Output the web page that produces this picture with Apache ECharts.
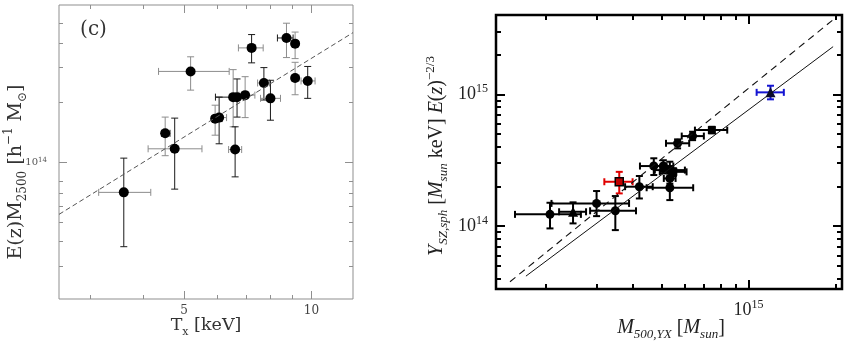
<!DOCTYPE html>
<html>
<head>
<meta charset="utf-8">
<script src="https://cdn.jsdelivr.net/npm/echarts@6/dist/echarts.min.js"></script>
<style>
  html, body { margin: 0; padding: 0; background: #fff; }
  #chart { width: 852px; height: 344px; }
</style>
</head>
<body>
<div id="chart"></div>
<script>
// ---------- Panel (c): E(z) M2500 against X-ray temperature ----------
const tempKeV = [3.60, 4.51, 4.75, 5.18, 5.92, 6.05, 6.53, 6.67, 6.97, 6.60, 7.22, 7.72, 8.00, 8.73, 9.15, 9.15, 9.80];
const tempLo  = [3.14, 4.42, 4.11, 4.35, 5.81, 5.90, 5.93, 6.45, 6.74, 6.37, 6.72, 7.46, 7.58, 8.31, 9.00, 9.00, 9.45];
const tempHi  = [4.17, 4.63, 5.51, 6.39, 6.15, 6.30, 6.90, 6.95, 7.35, 6.84, 7.69, 7.96, 8.45, 9.05, 9.30, 9.35, 10.2];
const m2500   = [7.06e13, 1.40e14, 1.17e14, 2.87e14, 1.66e14, 1.68e14, 2.13e14, 2.13e14, 2.18e14, 1.16e14, 3.77e14, 2.51e14, 2.10e14, 4.23e14, 3.96e14, 2.66e14, 2.57e14];
const m2500Lo = [3.76e13, 1.08e14, 7.33e13, 2.31e14, 1.37e14, 1.24e14, 1.51e14, 1.69e14, 1.68e14, 8.45e13, 3.17e14, 2.06e14, 1.63e14, 3.37e14, 3.33e14, 2.19e14, 2.10e14];
const m2500Hi = [1.05e14, 1.69e14, 1.67e14, 3.40e14, 1.94e14, 2.13e14, 2.93e14, 2.63e14, 2.70e14, 1.51e14, 4.40e14, 3.00e14, 2.59e14, 5.02e14, 4.53e14, 3.19e14, 3.04e14];
const mtFitT  = [2.53, 12.54];
const mtFitM  = [5.47e13, 4.50e14];
const tempRange = [2.53, 12.54];
const massRange = [2.05e13, 6.2e14];
const tempMajor = [5, 10];
const tempMinor = [3, 4, 6, 7, 8, 9];
const massMajor = [1e14];
const massMinor = [3e13, 4e13, 5e13, 6e13, 7e13, 8e13, 2e14, 3e14, 4e14, 5e14];

// ---------- Right panel: Y_SZ against M500 from Y_X ----------
const mainM   = [2.065e14, 2.99e14, 3.47e14, 4.20e14, 5.35e14, 4.71e14, 5.08e14, 5.35e14, 5.35e14, 5.69e14, 6.41e14];
const mainMLo = [1.564e14, 2.09e14, 2.84e14, 3.75e14, 4.45e14, 4.22e14, 4.69e14, 4.75e14, 5.10e14, 5.19e14, 5.88e14];
const mainMHi = [2.64e14, 3.87e14, 4.09e14, 4.67e14, 6.44e14, 5.21e14, 5.50e14, 6.03e14, 5.60e14, 6.24e14, 7.01e14];
const mainY   = [1.227e14, 1.486e14, 1.306e14, 1.99e14, 1.954e14, 2.855e14, 2.855e14, 2.66e14, 2.30e14, 4.25e14, 4.82e14];
const mainYLo = [9.6e13, 1.19e14, 9.32e13, 1.62e14, 1.575e14, 2.44e14, 2.51e14, 2.23e14, 2.10e14, 3.89e14, 4.49e14];
const mainYHi = [1.503e14, 1.845e14, 1.69e14, 2.40e14, 2.30e14, 3.27e14, 3.16e14, 3.08e14, 2.50e14, 4.55e14, 5.20e14];

const sqM   = [7.47e14, 5.50e14];
const sqMLo = [6.53e14, 4.94e14];
const sqMHi = [8.44e14, 6.11e14];
const sqY   = [5.35e14, 2.58e14];
const sqYLo = [5.06e14, 2.40e14];
const sqYHi = [5.67e14, 2.75e14];

const triM   = [2.48e14];
const triMLo = [2.22e14];
const triMHi = [2.75e14];
const triY   = [1.284e14];
const triYLo = [1.048e14];
const triYHi = [1.514e14];

const redM   = [3.58e14];
const redMLo = [3.18e14];
const redMHi = [3.98e14];
const redY   = [2.17e14];
const redYLo = [1.77e14];
const redYHi = [2.58e14];

const blueM   = [1.19e15];
const blueMLo = [1.066e15];
const blueMHi = [1.323e15];
const blueY   = [1.035e15];
const blueYLo = [9.16e14];
const blueYHi = [1.162e15];

const solidFitM  = [1.706e14, 1.957e15];
const solidFitY  = [4.17e13, 2.30e15];
const dashedFitM = [1.503e14, 1.95e15];
const dashedFitY = [3.78e13, 3.66e15];

const myxRange = [1.345e14, 2.10e15];
const yszRange = [3.33e13, 4.0e15];
const myxMajor = [1e15];
const myxMinor = [2e14, 3e14, 4e14, 5e14, 6e14, 7e14, 8e14, 9e14, 2e15];
const yszMajor = [1e14, 1e15];
const yszMinor = [4e13, 5e13, 6e13, 7e13, 8e13, 9e13, 2e14, 3e14, 4e14, 5e14, 6e14, 7e14, 8e14, 9e14, 2e15, 3e15];

// ---------- helpers ----------
const lg = v => Math.log10(v);
const rows = (x, xl, xh, y, yl, yh, extra) =>
  x.map((_, i) => [lg(x[i]), lg(xl[i]), lg(xh[i]), lg(y[i]), lg(yl[i]), lg(yh[i])].concat(extra ? extra[i] : []));
const pts = (x, y) => x.map((_, i) => [lg(x[i]), lg(y[i])]);

const LEFT  = { left: 59,  top: 5,  width: 294, height: 294 };
const RIGHT = { left: 496, top: 15, width: 346, height: 274 };

const SERIF = "'Liberation Serif', 'DejaVu Serif', serif";
const SLAB  = "'DejaVu Serif', 'Liberation Serif', serif";

// which error bars in panel (c) are drawn dark (1) rather than grey (0)
const tempBarDark = [0, 1, 0, 0, 0, 0, 1, 0, 0, 0, 0, 0, 0, 1, 1, 0, 0];
const massBarDark = [1, 0, 1, 0, 0, 1, 0, 1, 0, 1, 1, 1, 1, 0, 0, 0, 1];

function errorBars(cfg) {
  return function (params, api) {
    const x = api.value(0), xl = api.value(1), xh = api.value(2);
    const y = api.value(3), yl = api.value(4), yh = api.value(5);
    const colX = cfg.colorX ? cfg.colorX(api.value(6)) : cfg.color;
    const colY = cfg.colorY ? cfg.colorY(api.value(7)) : cfg.color;
    const pL = api.coord([xl, y]), pH = api.coord([xh, y]);
    const pB = api.coord([x, yl]), pT = api.coord([x, yh]);
    const c = cfg.cap;
    const sx = { stroke: colX, lineWidth: cfg.width, lineCap: 'butt' };
    const sy = { stroke: colY, lineWidth: cfg.width, lineCap: 'butt' };
    const ln = (x1, y1, x2, y2, s) => ({ type: 'line', shape: { x1, y1, x2, y2 }, style: s });
    return {
      type: 'group',
      children: [
        ln(pL[0], pL[1], pH[0], pH[1], sx),
        ln(pL[0], pL[1] - c, pL[0], pL[1] + c, sx),
        ln(pH[0], pH[1] - c, pH[0], pH[1] + c, sx),
        ln(pB[0], pB[1], pT[0], pT[1], sy),
        ln(pB[0] - c, pB[1], pB[0] + c, pB[1], sy),
        ln(pT[0] - c, pT[1], pT[0] + c, pT[1], sy)
      ]
    };
  };
}

// four axes per side pair: labelled major, minor, mirrored major, mirrored minor
function axisSet(dim, gridIndex, range, majors, minors, st) {
  const sides = dim === 'x' ? ['bottom', 'top'] : ['left', 'right'];
  const base = {
    type: 'value', gridIndex, min: lg(range[0]), max: lg(range[1]),
    axisLine: { show: false }, splitLine: { show: false }, minorTick: { show: false }
  };
  const tick = (vals, len) => ({
    show: true, inside: true, length: len, customValues: vals.map(lg),
    lineStyle: { color: st.tickColor, width: st.tickWidth }
  });
  return [
    Object.assign({}, base, {
      position: sides[0], axisTick: tick(majors, st.majorLen),
      axisLabel: Object.assign({ show: true, customValues: majors.map(lg) }, st.label)
    }),
    Object.assign({}, base, { position: sides[0], axisTick: tick(minors, st.minorLen), axisLabel: { show: false } }),
    Object.assign({}, base, { position: sides[1], axisTick: tick(majors, st.majorLen), axisLabel: { show: false } }),
    Object.assign({}, base, { position: sides[1], axisTick: tick(minors, st.minorLen), axisLabel: { show: false } })
  ];
}

const leftStyle = { tickColor: '#8f8f8f', tickWidth: 1, majorLen: 8, minorLen: 4 };
const rightStyle = { tickColor: '#000', tickWidth: 2, majorLen: 9, minorLen: 5 };

const powLabel = (v) => '{b|10}{s|' + Math.round(v) + '}';

const xAxes = [].concat(
  axisSet('x', 0, tempRange, tempMajor, tempMinor, Object.assign({}, leftStyle, {
    label: { margin: 6, color: '#444', fontFamily: SLAB, fontSize: 12,
             formatter: v => String(Math.round(Math.pow(10, v))) }
  })),
  axisSet('x', 1, myxRange, myxMajor, myxMinor, Object.assign({}, rightStyle, {
    label: { margin: 10, color: '#222', fontFamily: SERIF, formatter: powLabel,
             rich: { b: { fontSize: 18, fontFamily: SERIF, color: '#222', lineHeight: 22 },
                     s: { fontSize: 12, fontFamily: SERIF, color: '#222', verticalAlign: 'top', lineHeight: 22 } } }
  }))
);
const yAxes = [].concat(
  axisSet('y', 0, massRange, massMajor, massMinor, Object.assign({}, leftStyle, {
    label: { margin: 12, color: '#555', fontFamily: SLAB, formatter: powLabel,
             rich: { b: { fontSize: 10, fontFamily: SLAB, color: '#555', lineHeight: 12 },
                     s: { fontSize: 7, fontFamily: SLAB, color: '#555', verticalAlign: 'top', lineHeight: 12 } } }
  })),
  axisSet('y', 1, yszRange, yszMajor, yszMinor, Object.assign({}, rightStyle, {
    label: { margin: 8, color: '#222', fontFamily: SERIF, formatter: powLabel,
             rich: { b: { fontSize: 18, fontFamily: SERIF, color: '#222', lineHeight: 22 },
                     s: { fontSize: 12, fontFamily: SERIF, color: '#222', verticalAlign: 'top', lineHeight: 22 } } }
  }))
);

const grey = '#8c8c8c', dark = '#1a1a1a';
const solid = { color: '#000', opacity: 1 };

const series = [
  // panel (c)
  {
    type: 'line', xAxisIndex: 0, yAxisIndex: 0, data: pts(mtFitT, mtFitM),
    symbol: 'none', silent: true, lineStyle: { color: '#555', width: 1, type: [5, 3] }
  },
  {
    type: 'custom', xAxisIndex: 0, yAxisIndex: 0, silent: true,
    encode: { x: [0, 1, 2], y: [3, 4, 5] },
    data: rows(tempKeV, tempLo, tempHi, m2500, m2500Lo, m2500Hi,
               tempKeV.map((_, i) => [tempBarDark[i], massBarDark[i]])),
    renderItem: errorBars({ width: 1, cap: 3.5,
      colorX: d => (d ? dark : grey), colorY: d => (d ? dark : grey) })
  },
  {
    type: 'scatter', xAxisIndex: 0, yAxisIndex: 0, data: pts(tempKeV, m2500),
    symbol: 'circle', symbolSize: 10, itemStyle: solid, silent: true
  },
  // right panel: relations
  {
    type: 'line', xAxisIndex: 4, yAxisIndex: 4, data: pts(dashedFitM, dashedFitY),
    symbol: 'none', silent: true, lineStyle: { color: '#111', width: 1.1, type: [7, 5] }
  },
  {
    type: 'line', xAxisIndex: 4, yAxisIndex: 4, data: pts(solidFitM, solidFitY),
    symbol: 'none', silent: true, lineStyle: { color: '#111', width: 1 }
  },
  // right panel: error bars
  {
    type: 'custom', xAxisIndex: 4, yAxisIndex: 4, silent: true, encode: { x: [0, 1, 2], y: [3, 4, 5] },
    data: rows(mainM, mainMLo, mainMHi, mainY, mainYLo, mainYHi)
      .concat(rows(triM, triMLo, triMHi, triY, triYLo, triYHi))
      .concat(rows(sqM, sqMLo, sqMHi, sqY, sqYLo, sqYHi)),
    renderItem: errorBars({ width: 2, cap: 3.5, color: '#000' })
  },
  {
    type: 'custom', xAxisIndex: 4, yAxisIndex: 4, silent: true, encode: { x: [0, 1, 2], y: [3, 4, 5] },
    data: rows(redM, redMLo, redMHi, redY, redYLo, redYHi),
    renderItem: errorBars({ width: 2, cap: 3.5, color: '#e00000' })
  },
  {
    type: 'custom', xAxisIndex: 4, yAxisIndex: 4, silent: true, encode: { x: [0, 1, 2], y: [3, 4, 5] },
    data: rows(blueM, blueMLo, blueMHi, blueY, blueYLo, blueYHi),
    renderItem: errorBars({ width: 2, cap: 3.5, color: '#1414d2' })
  },
  // right panel: markers
  {
    type: 'scatter', xAxisIndex: 4, yAxisIndex: 4, data: pts(mainM, mainY), silent: true,
    symbol: 'circle', symbolSize: 9, itemStyle: solid
  },
  {
    type: 'scatter', xAxisIndex: 4, yAxisIndex: 4, data: pts(triM, triY), silent: true,
    symbol: 'triangle', symbolSize: 10, itemStyle: solid
  },
  {
    type: 'scatter', xAxisIndex: 4, yAxisIndex: 4, data: pts(sqM, sqY), silent: true,
    symbol: 'rect', symbolSize: 8, itemStyle: solid
  },
  {
    type: 'scatter', xAxisIndex: 4, yAxisIndex: 4, data: pts(redM, redY), silent: true,
    symbol: 'rect', symbolSize: 8, itemStyle: { color: '#c00000', opacity: 1, borderColor: '#000', borderWidth: 1.5 }
  },
  {
    type: 'scatter', xAxisIndex: 4, yAxisIndex: 4, data: pts(blueM, blueY), silent: true,
    symbol: 'triangle', symbolSize: 10, itemStyle: { color: '#0a0a30', opacity: 1 }
  }
];

const rt = (family, color) => ({
  main: (size, ital) => ({ fontSize: size, fontFamily: family, fontStyle: ital ? 'italic' : 'normal', fill: color, lineHeight: 26 }),
  sub:  (size, ital) => ({ fontSize: size, fontFamily: family, fontStyle: ital ? 'italic' : 'normal', fill: color, verticalAlign: 'bottom', lineHeight: 26 }),
  sup:  (size, ital) => ({ fontSize: size, fontFamily: family, fontStyle: ital ? 'italic' : 'normal', fill: color, verticalAlign: 'top', lineHeight: 26 })
});
const L = rt(SLAB, '#333');
const R = rt(SERIF, '#222');

const graphic = [
  {
    type: 'text', x: 93.5, y: 30, silent: true,
    style: { text: '(c)', fontSize: 20, fontFamily: SLAB, fill: '#333', align: 'center', verticalAlign: 'middle' }
  },
  {
    type: 'text', x: 206, y: 325, silent: true,
    style: {
      text: '{m|T}{d|x}{m| [keV]}', align: 'center', verticalAlign: 'middle',
      rich: { m: L.main(17.5), d: L.sub(11) }
    }
  },
  {
    type: 'text', x: 16, y: 172, rotation: Math.PI / 2, silent: true,
    style: {
      text: '{m|E(z)M}{d|2500}{m| [h}{u|−1}{m| M}{d|⊙}{m|]}', align: 'center', verticalAlign: 'middle',
      rich: { m: L.main(19), d: L.sub(12), u: L.sup(12) }
    }
  },
  {
    type: 'text', x: 671, y: 328, silent: true,
    style: {
      text: '{i|M}{di|500,YX}{m| [}{i|M}{di|sun}{m|]}', align: 'center', verticalAlign: 'middle',
      rich: { i: R.main(20, true), m: R.main(20), di: R.sub(13, true) }
    }
  },
  {
    type: 'text', x: 437, y: 156, rotation: Math.PI / 2, silent: true,
    style: {
      text: '{i|Y}{di|SZ,sph}{m| [}{i|M}{di|sun}{m| keV] }{i|E}{m|(}{i|z}{m|)}{u|−2/3}',
      align: 'center', verticalAlign: 'middle',
      rich: { i: R.main(20, true), m: R.main(20), di: R.sub(13, true), u: R.sup(13) }
    }
  }
];

const chart = echarts.init(document.getElementById('chart'), null, { renderer: 'canvas' });
chart.setOption({
  animation: false,
  backgroundColor: '#fff',
  grid: [
    Object.assign({ show: true, borderColor: '#8f8f8f', borderWidth: 1, containLabel: false, outerBoundsMode: 'none' }, LEFT),
    Object.assign({ show: true, borderColor: '#000', borderWidth: 2.5, containLabel: false, outerBoundsMode: 'none' }, RIGHT)
  ],
  xAxis: xAxes,
  yAxis: yAxes,
  series,
  graphic
});
</script>
</body>
</html>
